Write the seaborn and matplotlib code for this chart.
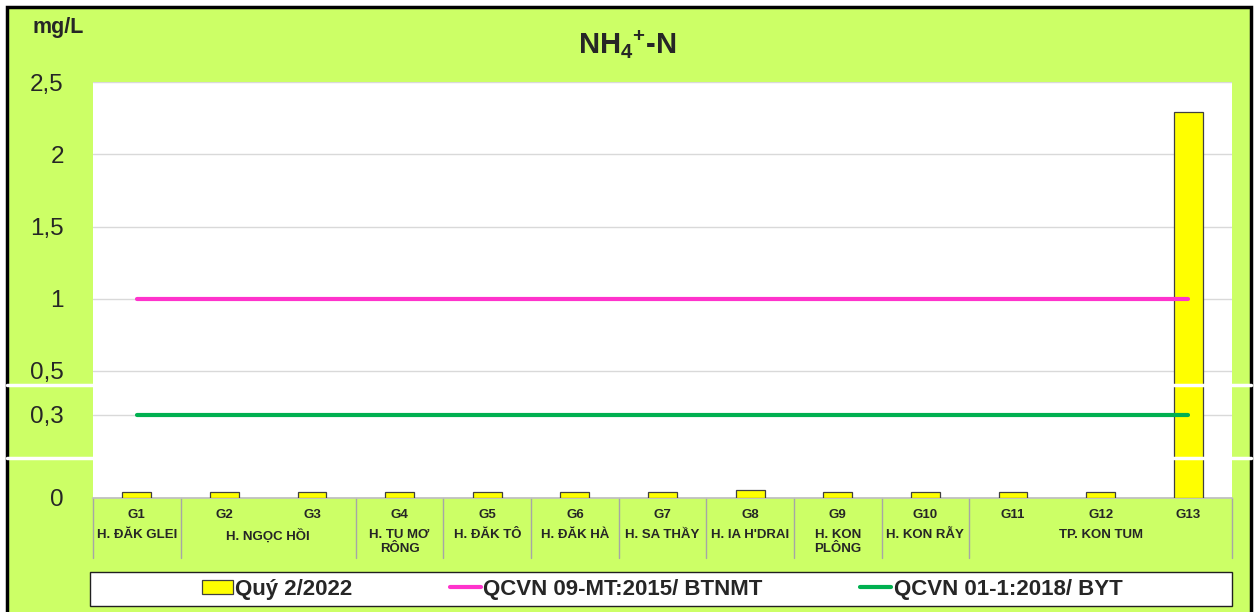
import numpy as np
import matplotlib
matplotlib.use("Agg")
import matplotlib.pyplot as plt
from matplotlib.patches import Rectangle
from matplotlib.lines import Line2D
import matplotlib.transforms as mtransforms
import seaborn as sns
import pandas as pd

# Data
stations = ["G1", "G2", "G3", "G4", "G5", "G6", "G7",
            "G8", "G9", "G10", "G11", "G12", "G13"]
nh4 = [0.02, 0.02, 0.02, 0.02, 0.02, 0.02, 0.02,
       0.03, 0.02, 0.02, 0.02, 0.02, 2.29]
qcvn09 = [1.0] * 13
qcvn01 = [0.3] * 13
# district groups: (label, first station index, last station index)
groups = [("H. ĐĂK GLEI", 0, 0), ("H. NGỌC HỒI", 1, 2), ("H. TU MƠ\nRÔNG", 3, 3),
          ("H. ĐĂK TÔ", 4, 4), ("H. ĐĂK HÀ", 5, 5), ("H. SA THẦY", 6, 6),
          ("H. IA H'DRAI", 7, 7), ("H. KON\nPLÔNG", 8, 8), ("H. KON RẪY", 9, 9),
          ("TP. KON TUM", 10, 12)]
ytick_vals = [0, 0.3, 0.5, 1, 1.5, 2, 2.5]
ytick_text = ["0", "0,3", "0,5", "1", "1,5", "2", "2,5"]
legend_names = ["Quý 2/2022", "QCVN 09-MT:2015/ BTNMT", "QCVN 01-1:2018/ BYT"]

GREEN = "#CCFF66"
sns.set_theme(style="white")
plt.rcParams["font.family"] = ["Liberation Sans", "DejaVu Sans"]
plt.rcParams["mathtext.fontset"] = "custom"
plt.rcParams["mathtext.rm"] = "Liberation Sans"
plt.rcParams["mathtext.bf"] = "Liberation Sans:bold"

W, H = 1259, 612
fig = plt.figure(figsize=(W / 100, H / 100), dpi=100, facecolor="white")

# green panel with black frame
fig.add_artist(Rectangle((7 / W, -0.01), (1251 - 7) / W, 1 - 7 / H + 0.01,
                         transform=fig.transFigure, facecolor=GREEN,
                         edgecolor="black", linewidth=2.5, zorder=0))

ax = fig.add_axes([93 / W, 1 - 498 / H, (1232 - 93) / W, (498 - 82) / H])
ax.set_facecolor("white")

# broken axis: piecewise linear scale
src = [-10, 0, 0.3, 0.5, 2.5, 20]
dst = [-2770, 0, 83, 127, 416, 416 + 17.5 * 144.5]
ax.set_yscale("function", functions=(lambda v: np.interp(v, src, dst),
                                     lambda p: np.interp(p, dst, src)))

df = pd.DataFrame({"station": stations, "value": nh4,
                   "qcvn09": qcvn09, "qcvn01": qcvn01})
sns.barplot(data=df, x="station", y="value", ax=ax, color="#FFFF00",
            saturation=1, width=0.33, edgecolor="#404040", linewidth=0.9,
            label=legend_names[0], zorder=3)
sns.lineplot(data=df, x="station", y="qcvn09", ax=ax, color="#FF33CC",
             linewidth=3, solid_capstyle="round", label=legend_names[1], zorder=4)
sns.lineplot(data=df, x="station", y="qcvn01", ax=ax, color="#00B050",
             linewidth=3, solid_capstyle="round", label=legend_names[2], zorder=4)

ax.set_xlim(-0.5, len(stations) - 0.5)
ax.set_ylim(0, 2.5)
ax.set_yticks(ytick_vals)
ax.set_yticklabels(ytick_text, fontsize=17.5)
ax.tick_params(axis="y", length=0, pad=21)
ax.yaxis.grid(True, color="#D9D9D9", linewidth=1)
ax.set_axisbelow(True)
ax.set_xlabel("")
ax.set_ylabel("")
ax.set_xticks(range(len(stations)))
ax.set_xticklabels(stations, fontsize=9.5, fontweight="bold")
ax.tick_params(axis="x", length=0, pad=8)
for s in ["top", "left", "right"]:
    ax.spines[s].set_visible(False)
ax.spines["bottom"].set_color("#BFBFBF")
ax.get_legend().remove()

# category table below the axis
trans = mtransforms.blended_transform_factory(ax.transData, ax.transAxes)
edges = [-0.5] + [g[2] + 0.5 for g in groups]
for e in edges:
    ax.plot([e, e], [0, -0.145], transform=trans, color="#A6A6A6",
            linewidth=1, clip_on=False)
for name, a, b in groups:
    ax.text((a + b) / 2, -0.074, name, transform=trans, ha="center", va="top",
            fontsize=9.5, fontweight="bold", linespacing=1.25)

# titles
fig.text(32 / W, 1 - 28 / H, "mg/L", fontsize=15.5, fontweight="bold",
         ha="left", va="center")
fig.text(627 / W, 1 - 45 / H, r"$\mathbf{NH_4}^{\mathbf{+}}$-N", fontsize=21,
         fontweight="bold", ha="center", va="center")

# axis break marks
for yb in [385, 458]:
    fig.add_artist(Line2D([7 / W, 1251 / W], [1 - yb / H, 1 - yb / H],
                          transform=fig.transFigure, color="white",
                          linewidth=2.5, zorder=10))

# legend box
fig.add_artist(Rectangle((90 / W, 1 - 606 / H), (1232 - 90) / W, 34 / H,
                         transform=fig.transFigure, facecolor="white",
                         edgecolor="#202020", linewidth=1, zorder=1))
handles, labels = ax.get_legend_handles_labels()
order = [labels.index(n) for n in legend_names]
leg = fig.legend([handles[i] for i in order], legend_names, loc="center", ncol=3,
                 bbox_to_anchor=(662 / W, 1 - 589 / H), frameon=False,
                 prop={"size": 16, "weight": "bold"}, handlelength=1.4,
                 handleheight=0.6, handletextpad=0.1, columnspacing=4.4)
leg.set_zorder(5)

fig.savefig("out.png", dpi=100, facecolor=fig.get_facecolor())
